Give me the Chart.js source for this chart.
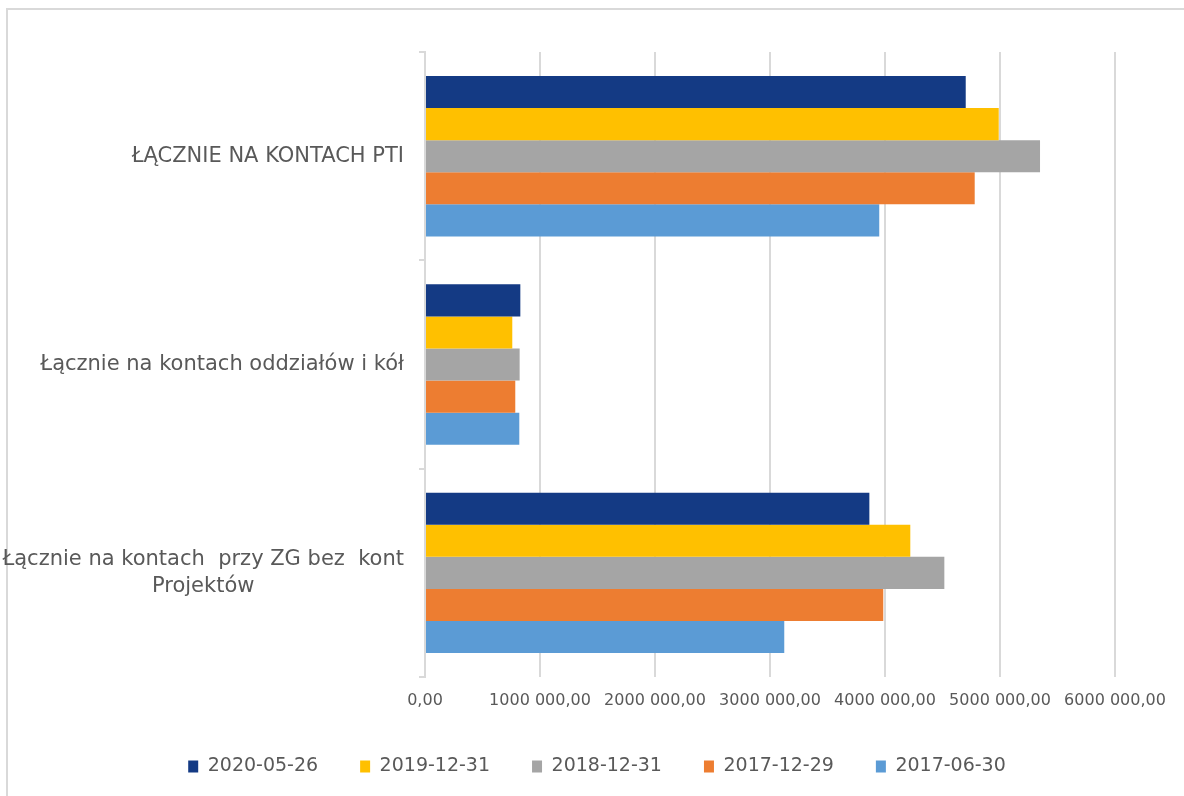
<!DOCTYPE html>
<html>
<head>
<meta charset="utf-8">
<script src="https://cdn.jsdelivr.net/npm/chart.js@4/dist/chart.umd.min.js"></script>
<style>
    body { margin: 0; overflow: hidden; background: #fff; }
    .frame { position: absolute; left: 6px; top: 8px; width: 1300px; height: 900px; border: 2px solid #d9d9d9; }
    canvas { position: absolute; left: 0; top: 0; }
</style>
</head>
<body>
<div class="frame"></div>
<canvas id="balanceChart" width="1184" height="796"></canvas>
<script>
// categories (lines of each label)
const categories = [
    ['ŁĄCZNIE NA KONTACH PTI'],
    ['Łącznie na kontach oddziałów i kół'],
    ['Łącznie na kontach  przy ZG bez  kont', 'Projektów']
];
const seriesLabels = ['2020-05-26', '2019-12-31', '2018-12-31', '2017-12-29', '2017-06-30'];
const seriesColors = ['#143a84', '#ffc000', '#a5a5a5', '#ed7d31', '#5b9bd5'];

// values (PLN)
const values2020_05_26 = [4702000, 829000, 3864000];
const values2019_12_31 = [4989000, 759000, 4220000];
const values2018_12_31 = [5348000, 823000, 4516000];
const values2017_12_29 = [4780000, 785000, 3985000];
const values2017_06_30 = [3950000, 820000, 3124000];
const seriesValues = [values2020_05_26, values2019_12_31, values2018_12_31, values2017_12_29, values2017_06_30];

const xTicks = [0, 1000000, 2000000, 3000000, 4000000, 5000000, 6000000];

const textColor = '#595959';
const gridColor = '#d9d9d9';

// "1000 000,00" like the original sheet
function formatAmount(v) {
    let s = String(Math.round(v));
    if (s.length > 3) s = s.slice(0, -3) + ' ' + s.slice(-3);
    return s + ',00';
}

// category labels: right aligned, extra lines centred under the first
const categoryLabels = {
    id: 'categoryLabels',
    afterDraw(chart) {
        const ctx = chart.ctx;
        const yScale = chart.scales.y;
        const right = chart.chartArea.left - 21;
        const lineH = 27;
        ctx.save();
        ctx.font = '21px "DejaVu Sans"';
        ctx.fillStyle = textColor;
        ctx.textBaseline = 'middle';
        ctx.textAlign = 'center';
        categories.forEach((lines, i) => {
            const yc = yScale.getPixelForValue(i);
            const widest = Math.max(...lines.map(l => ctx.measureText(l).width));
            const cx = right - widest / 2;
            lines.forEach((line, j) => {
                const y = yc + (j - (lines.length - 1) / 2) * lineH;
                ctx.fillText(line, cx, y);
            });
        });
        ctx.restore();
    }
};

const ctx = document.getElementById('balanceChart');
new Chart(ctx.getContext('2d'), {
    type: 'bar',
    data: {
        labels: categories.map(c => c.join(' ')),
        datasets: seriesLabels.map((label, i) => ({
            label: label,
            data: seriesValues[i],
            backgroundColor: seriesColors[i],
            categoryPercentage: 0.77,
            barPercentage: 1.0
        }))
    },
    options: {
        indexAxis: 'y',
        responsive: false,
        animation: false,
        layout: {
            padding: { top: 52, right: 69, left: 79, bottom: 10 }
        },
        scales: {
            x: {
                min: 0,
                max: 6000000,
                afterBuildTicks: (scale) => { scale.ticks = xTicks.map(v => ({ value: v })); },
                afterFit: (scale) => { scale.height = 38; },
                border: { display: false },
                grid: { color: gridColor, lineWidth: 2, drawTicks: false },
                ticks: {
                    padding: 14,
                    color: textColor,
                    font: { family: 'DejaVu Sans', size: 16 },
                    callback: (v) => formatAmount(v)
                }
            },
            y: {
                afterFit: (scale) => { scale.width = 346; },
                border: { color: gridColor, width: 2 },
                grid: { drawOnChartArea: false, color: gridColor, lineWidth: 2, tickLength: 6, offset: true },
                ticks: { display: false }
            }
        },
        plugins: {
            tooltip: { enabled: false },
            legend: {
                position: 'bottom',
                labels: {
                    boxWidth: 10,
                    boxHeight: 12,
                    padding: 42,
                    color: textColor,
                    font: { family: 'DejaVu Sans', size: 19 }
                }
            }
        }
    },
    plugins: [categoryLabels]
});
</script>
</body>
</html>
